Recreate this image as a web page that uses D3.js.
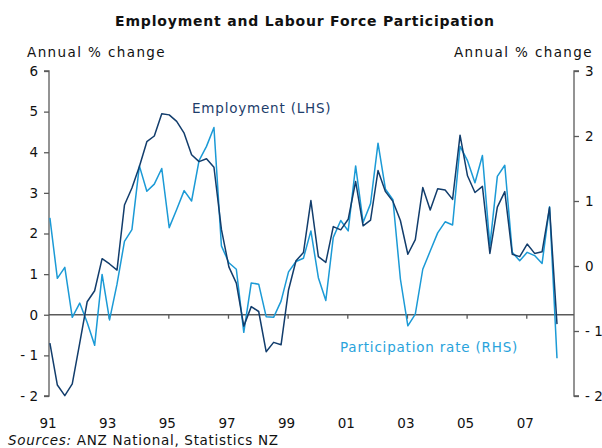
<!DOCTYPE html>
<html>
<head>
<meta charset="utf-8">
<script src="https://cdn.jsdelivr.net/npm/d3@7"></script>
<style>
  html, body { margin: 0; padding: 0; background: #fff; }
  svg { display: block; }
  text { font-family: "DejaVu Sans", Verdana, sans-serif; fill: #111; }
</style>
</head>
<body>
<svg id="chart" width="602" height="448"></svg>
<script>
// ---- data (quarterly, 1991Q1 - 2008Q1) ----
const startYear = 1991;
const employment = [
  -0.70, -1.73, -1.99, -1.70, -0.70, 0.32, 0.59, 1.38, 1.25, 1.10,
   2.70, 3.12, 3.65, 4.26, 4.40, 4.95, 4.92, 4.76, 4.47, 3.94,
   3.77, 3.84, 3.63, 2.10, 1.18, 0.78, -0.28, 0.20, 0.08, -0.91,
  -0.68, -0.74, 0.61, 1.33, 1.53, 2.81, 1.43, 1.29, 2.17, 2.09,
   2.35, 3.28, 2.19, 2.33, 3.55, 3.03, 2.79, 2.32, 1.49, 1.85,
   3.13, 2.58, 3.10, 3.07, 2.84, 4.42, 3.42, 3.01, 3.16, 1.51,
   2.65, 3.03, 1.49, 1.43, 1.74, 1.51, 1.55, 2.64, -0.23
];
const participation = [
   0.74, -0.19, -0.02, -0.79, -0.57, -0.87, -1.22, -0.13, -0.83, -0.28,
   0.38, 0.56, 1.54, 1.15, 1.26, 1.50, 0.59, 0.87, 1.16, 1.00,
   1.62, 1.84, 2.13, 0.31, 0.05, -0.05, -1.02, -0.26, -0.28, -0.78,
  -0.79, -0.54, -0.09, 0.07, 0.12, 0.54, -0.18, -0.53, 0.44, 0.70,
   0.54, 1.54, 0.67, 0.96, 1.89, 1.18, 1.02, -0.20, -0.92, -0.74,
  -0.05, 0.23, 0.51, 0.68, 0.63, 1.84, 1.62, 1.28, 1.70, 0.31,
   1.38, 1.55, 0.21, 0.08, 0.21, 0.16, 0.04, 0.91, -1.42
];
const xTickYears = [1991, 1993, 1995, 1997, 1999, 2001, 2003, 2005, 2007];
const xTickLabels = ["91", "93", "95", "97", "99", "01", "03", "05", "07"];
const leftTicks = [6, 5, 4, 3, 2, 1, 0, -1, -2];
const rightTicks = [3, 2, 1, 0, -1, -2];
const titleText = "Employment and Labour Force Participation";
const axisTitle = "Annual % change";
const empLabel = "Employment (LHS)";
const partLabel = "Participation rate (RHS)";

// ---- layout ----
const L = 49, R = 574, T = 71, B = 396;
const darkCol = "#123d6c", lightCol = "#1b9ad6", axisCol = "#5a5a5a";

const svg = d3.select("#chart");
const x = d3.scaleLinear().domain([1991, 2008.6]).range([L, R]);
const yL = d3.scaleLinear().domain([-2, 6]).range([B, T]);
const yR = d3.scaleLinear().domain([-2, 3]).range([B, T]);

const t = i => startYear + i * 0.25 + 0.03;

// title
svg.append("text").attr("x", 305).attr("y", 26).attr("text-anchor", "middle")
  .style("font-weight", "bold").style("font-size", "14px").style("letter-spacing", "0.8px")
  .text(titleText);

// axis titles
svg.append("text").attr("x", 27).attr("y", 57).style("font-size", "13.5px").style("letter-spacing", "1.4px").text(axisTitle);
svg.append("text").attr("x", 593).attr("y", 57).attr("text-anchor", "end").style("font-size", "13.5px").style("letter-spacing", "1.4px").text(axisTitle);

// left axis
const gL = svg.append("g").attr("transform", `translate(${L},0)`)
  .call(d3.axisLeft(yL).tickValues(leftTicks).tickSize(5).tickPadding(6)
    .tickFormat(d => d < 0 ? "- " + Math.abs(d) : d));
// right axis
const gR = svg.append("g").attr("transform", `translate(${R},0)`)
  .call(d3.axisRight(yR).tickValues(rightTicks).tickSize(5).tickPadding(6)
    .tickFormat(d => d < 0 ? "- " + Math.abs(d) : d));
[gL, gR].forEach(g => {
  g.select(".domain").attr("stroke", axisCol).attr("stroke-width", 1.3);
  g.selectAll(".tick line").attr("stroke", axisCol).attr("stroke-width", 1.3);
  g.selectAll(".tick text").style("font-size", "13.5px").style("font-family", "DejaVu Sans").attr("fill", "#111");
});
gL.select(".domain").attr("d", `M-5,${T}H0V${B}H-5`);
gR.select(".domain").attr("d", `M5,${T}H0V${B}H5`);

// x axis at zero of left scale
const gX = svg.append("g").attr("transform", `translate(0,${yL(0)})`)
  .call(d3.axisBottom(x).tickValues(xTickYears.slice(1)).tickSize(4).tickFormat(""));
gX.select(".domain").attr("stroke", axisCol).attr("stroke-width", 1.3).attr("d", `M${L},0H${R}`);
gX.selectAll(".tick line").attr("stroke", axisCol).attr("stroke-width", 1.3);

// x labels at bottom
svg.append("g").selectAll("text").data(xTickYears).join("text")
  .attr("x", d => x(d) - 1).attr("y", 428).attr("text-anchor", "middle")
  .style("font-size", "13.5px").text((d, i) => xTickLabels[i]);

// lines
const lineEmp = d3.line().x((d, i) => x(t(i))).y(d => yL(d));
const linePart = d3.line().x((d, i) => x(t(i))).y(d => yR(d));
svg.append("path").datum(participation).attr("d", linePart)
  .attr("fill", "none").attr("stroke", lightCol).attr("stroke-width", 1.5).attr("stroke-linejoin", "round");
svg.append("path").datum(employment).attr("d", lineEmp)
  .attr("fill", "none").attr("stroke", darkCol).attr("stroke-width", 1.5).attr("stroke-linejoin", "round");

// series labels
svg.append("text").attr("x", 192).attr("y", 113).style("font-size", "13.5px").style("letter-spacing", "0.8px")
  .style("fill", "#1d3d6b").text(empLabel);
svg.append("text").attr("x", 340).attr("y", 352).style("font-size", "13.5px").style("letter-spacing", "0.8px")
  .style("fill", "#29a3dc").text(partLabel);

// source
const src = svg.append("text").attr("x", 8).attr("y", 445).style("font-size", "13.5px").style("letter-spacing", "0.7px");
src.append("tspan").style("font-style", "italic").text("Sources:");
src.append("tspan").text("  ANZ National, Statistics NZ");
</script>
</body>
</html>
